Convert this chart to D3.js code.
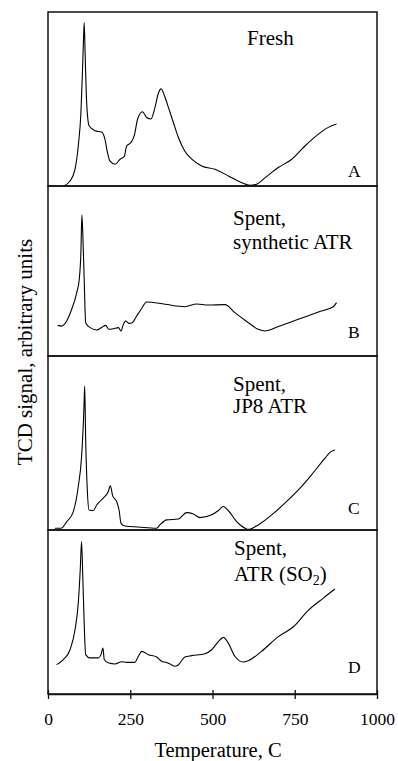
<!DOCTYPE html>
<html>
<head>
<meta charset="utf-8">
<script src="https://cdn.jsdelivr.net/npm/d3@7"></script>
<style>
  body { margin: 0; background: #fff; }
  text { font-family: "Liberation Serif", "Times New Roman", Times, "DejaVu Serif", serif; }
</style>
</head>
<body>
<div id="chart"></div>
<script>
// --- Data (temperature in C, TCD signal in arbitrary units per panel, 0-100) ---
const freshT = [47, 67, 82, 92, 100, 104, 108, 110, 113, 117.5, 125, 143, 163, 173, 181, 188, 204, 219, 232, 239, 252, 262, 272.5, 287, 300, 313, 325, 335, 343.5, 355.6, 368, 381, 396, 416, 437, 467, 507.6, 548, 589, 614, 634, 660, 700, 741, 781, 822, 852, 877];
const freshV = [0, 2.9, 9.6, 23, 42, 61.5, 84.6, 94, 75, 48, 34.6, 31.7, 31, 27, 19, 14.4, 12.5, 15.4, 17, 23, 25, 28.8, 38.5, 42.7, 39.4, 38.5, 45, 53, 55.8, 51, 44, 36.5, 28, 20, 15.4, 11.5, 9.6, 5.8, 1.9, 0.4, 1, 4.8, 10.6, 15.4, 23, 29.8, 33.7, 35.6];

const synT = [29.4, 41.5, 56.7, 72, 87, 95, 100, 103, 106, 110, 114.5, 128, 148, 163, 175, 185, 198.6, 214, 222, 229, 236, 246, 256, 269.5, 283, 300, 356, 416, 452, 487, 538, 568, 609, 639, 660, 700, 761, 822, 867, 877];
const synV = [18, 17.6, 20.6, 27.5, 37, 45, 61, 83, 70.6, 45, 19.6, 16.7, 15.3, 16.7, 18, 15.7, 16, 16.7, 14.7, 18.6, 20.6, 19.2, 19.6, 23.5, 27.5, 31.8, 30.4, 29, 30.6, 30, 30.2, 25.5, 19.6, 15.7, 14.7, 17.3, 21.6, 25.9, 29, 31.4];

const jp8T = [21, 39.5, 57, 77, 92, 102, 109, 111.5, 114.5, 119.5, 124.6, 138, 148, 168, 183, 189.5, 196.6, 208.7, 216, 222, 234, 274.6, 330, 340, 360.7, 396, 421.5, 442, 462, 497.5, 518, 533, 548, 573.5, 599, 609, 639, 680, 720, 761, 801, 842, 857, 872];
const jp8V = [1, 1, 4.8, 10.6, 25, 42, 69, 82.7, 52, 23, 11.5, 11.2, 14.4, 18.3, 22, 25.4, 19.6, 16.3, 11.5, 3.8, 2.3, 1.7, 1, 2.9, 5.8, 6.3, 10, 9.2, 7.1, 8.7, 11.2, 13.5, 11.2, 4.8, 1, 0.4, 2.9, 8.7, 15.4, 23, 31.7, 41.3, 44.6, 46];

const so2T = [26, 46.6, 67, 82, 92, 98, 102, 106, 110, 114.5, 127.7, 153, 161, 167, 171, 183, 204, 224, 239, 264, 274.6, 285, 305, 330, 345.5, 357.6, 371, 386, 396, 416, 437, 477, 497.5, 518, 533, 548, 568, 594, 609, 649, 700, 746, 791, 837, 872];
const so2V = [17.9, 21, 27, 39, 55.5, 75.8, 93, 69.7, 43, 24, 22, 22, 24, 28, 21, 19, 18.3, 19.7, 19.3, 19.3, 23, 26, 24, 22.6, 20, 19.3, 18.3, 16.9, 17.7, 22.6, 23.4, 24.6, 27, 32, 34.5, 31, 23, 19.5, 20.3, 26, 35, 41, 51, 58.5, 64];

const panelLetters = ["A", "B", "C", "D"];
const panelCaptions = [["Fresh"], ["Spent,", "synthetic ATR"], ["Spent,", "JP8 ATR"], ["Spent,", "ATR (SO2)"]];
const xTicks = [0, 250, 500, 750, 1000];

// --- Layout ---
const W = 398, H = 761;
const left = 48, right = 377;
const tops = [12, 186, 356, 530];
const bottoms = [186, 356, 530, 694];
const captionPos = [
  { x: 247, ys: [45] },
  { x: 233, ys: [225, 249] },
  { x: 233, ys: [391, 413] },
  { x: 234, ys: [555, 581] }
];
const letterBase = [177, 338, 514, 673];
const serif = '"Liberation Serif", "Times New Roman", Times, "DejaVu Serif", serif';

const svg = d3.select("#chart").append("svg")
  .attr("width", W)
  .attr("height", H)
  .attr("font-family", serif);

const x = d3.scaleLinear().domain([0, 1000]).range([left, right]);

const series = [
  freshT.map((t, i) => [t, freshV[i]]),
  synT.map((t, i) => [t, synV[i]]),
  jp8T.map((t, i) => [t, jp8V[i]]),
  so2T.map((t, i) => [t, so2V[i]])
];

series.forEach((pts, i) => {
  const y = d3.scaleLinear().domain([0, 100]).range([bottoms[i], tops[i]]);
  const line = d3.line()
    .x(d => x(d[0]))
    .y(d => y(d[1]))
    .curve(d3.curveMonotoneX);

  // panel frame
  svg.append("rect")
    .attr("x", left)
    .attr("y", tops[i])
    .attr("width", right - left)
    .attr("height", bottoms[i] - tops[i])
    .attr("fill", "none")
    .attr("stroke", "#111")
    .attr("stroke-width", 1.5);

  svg.append("path")
    .datum(pts)
    .attr("fill", "none")
    .attr("stroke", "#000")
    .attr("stroke-width", 1.1)
    .attr("stroke-linejoin", "round")
    .attr("d", line);

  // caption
  const cap = svg.append("g").attr("font-size", 21).attr("fill", "#000");
  panelCaptions[i].forEach((txt, j) => {
    const t = cap.append("text")
      .attr("x", captionPos[i].x)
      .attr("y", captionPos[i].ys[j]);
    if (txt.indexOf("SO2") >= 0) {
      t.append("tspan").text("ATR (SO");
      t.append("tspan").attr("font-size", 14).attr("dy", 4).text("2");
      t.append("tspan").attr("dy", -4).text(")");
    } else {
      t.text(txt);
    }
  });

  svg.append("text")
    .attr("x", 348)
    .attr("y", letterBase[i])
    .attr("font-size", 17.5)
    .text(panelLetters[i]);
});

// x axis
const xAxis = svg.append("g")
  .attr("transform", `translate(0,${bottoms[3]})`)
  .call(d3.axisBottom(x).tickValues(xTicks).tickFormat(d3.format("d")).tickSize(4).tickSizeOuter(0));
xAxis.attr("font-family", serif);
xAxis.select(".domain").attr("stroke", "#111").attr("stroke-width", 1.5);
xAxis.selectAll(".tick line").attr("y1", -4).attr("y2", 5).attr("stroke", "#111").attr("stroke-width", 1.3);
xAxis.selectAll(".tick text")
  .attr("y", 31)
  .attr("dy", null)
  .attr("font-size", 17.5)
  .attr("fill", "#000");

svg.append("text")
  .attr("x", 218)
  .attr("y", 757)
  .attr("text-anchor", "middle")
  .attr("font-size", 20.5)
  .text("Temperature, C");

svg.append("text")
  .attr("transform", "translate(32,352) rotate(-90)")
  .attr("text-anchor", "middle")
  .attr("font-size", 21)
  .text("TCD signal, arbitrary units");
</script>
</body>
</html>
